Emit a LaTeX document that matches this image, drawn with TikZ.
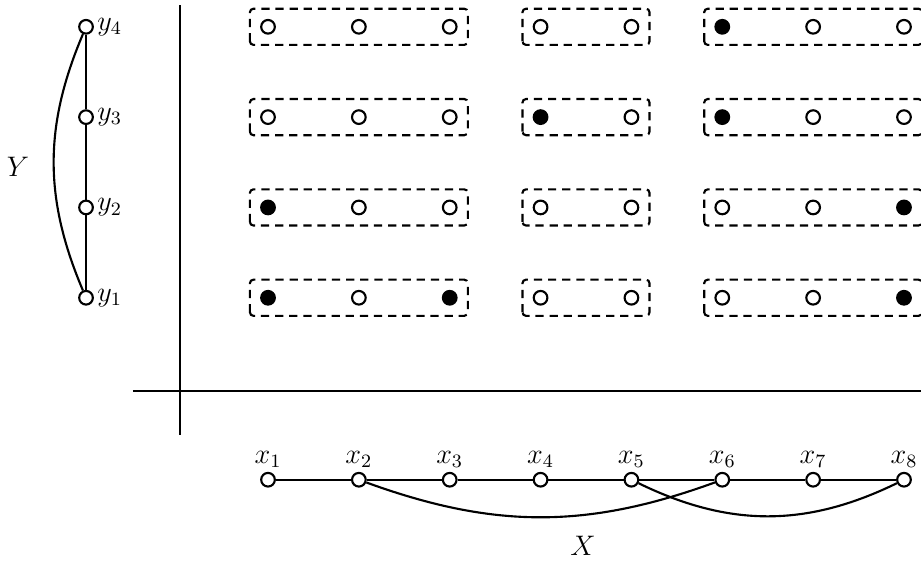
\documentclass[tikz,border=0pt]{standalone}
\usepackage{tikz}
\usetikzlibrary{positioning}
\newcommand{\xvtx}[3]{% x, name, label   (vertex of the X path)
  \node[vtx] (#2) at (#1,-7.16) {};
  \node[above=0pt of #2,inner sep=1.5pt] (l#2) {#3};}
\newcommand{\yvtx}[3]{% y, name, label   (vertex of the Y path)
  \node[vtx] (#2) at (1.284,#1) {};
  \node[right=0pt of #2,inner sep=1pt] (l#2) {#3};}
\newcommand{\dotrow}[9]{% row, then eight dots (vtx = open, dot = filled)
  \node[#2] (p#1a) at (4.000,{-0.4-(4-#1)*1.348}) {};
  \node[#3] (p#1b) at (5.356,{-0.4-(4-#1)*1.348}) {};
  \node[#4] (p#1c) at (6.712,{-0.4-(4-#1)*1.348}) {};
  \node[#5] (p#1d) at (8.068,{-0.4-(4-#1)*1.348}) {};
  \node[#6] (p#1e) at (9.424,{-0.4-(4-#1)*1.348}) {};
  \node[#7] (p#1f) at (10.780,{-0.4-(4-#1)*1.348}) {};
  \node[#8] (p#1g) at (12.136,{-0.4-(4-#1)*1.348}) {};
  \node[#9] (p#1h) at (13.492,{-0.4-(4-#1)*1.348}) {};
  \draw[box] ([shift={(-0.27,-0.27)}]p#1a.center) rectangle ([shift={(0.27,0.27)}]p#1c.center);
  \draw[box] ([shift={(-0.27,-0.27)}]p#1d.center) rectangle ([shift={(0.27,0.27)}]p#1e.center);
  \draw[box] ([shift={(-0.27,-0.27)}]p#1f.center) rectangle ([shift={(0.27,0.27)}]p#1h.center);}

\begin{document}
\begin{tikzpicture}[line width=0.9pt,font=\large,
  vtx/.style={circle,draw,fill=white,inner sep=0,minimum size=5.8pt},
  dot/.style={vtx,fill=black},
  box/.style={dash pattern=on 3.5pt off 2.5pt,rounded corners=1.5pt}]
  \useasboundingbox (0,0) rectangle (13.746,-8.418);
  % Y path on the left
  \yvtx{-4.444}{y1}{$y_1$}
  \yvtx{-3.096}{y2}{$y_2$}
  \yvtx{-1.748}{y3}{$y_3$}
  \yvtx{-0.400}{y4}{$y_4$}
  \draw (y1) -- (y2) -- (y3) -- (y4);
  \draw (y1) to[bend left=23] (y4);
  \node (ylab) at (0.27,-2.49) {$Y$};
  % axes
  \coordinate (axt) at (2.687,-0.075);
  \coordinate (axb) at (2.687,-6.49);
  \coordinate (axl) at (1.985,-5.836);
  \coordinate (axr) at (13.8,-5.836);
  \draw (axt) -- (axb);
  \draw (axl) -- (axr);
  % product grid
  \dotrow{4}{vtx}{vtx}{vtx}{vtx}{vtx}{dot}{vtx}{vtx}
  \dotrow{3}{vtx}{vtx}{vtx}{dot}{vtx}{dot}{vtx}{vtx}
  \dotrow{2}{dot}{vtx}{vtx}{vtx}{vtx}{vtx}{vtx}{dot}
  \dotrow{1}{dot}{vtx}{dot}{vtx}{vtx}{vtx}{vtx}{dot}
  % X path at the bottom
  \xvtx{4.000}{x1}{$x_1$}
  \xvtx{5.356}{x2}{$x_2$}
  \xvtx{6.712}{x3}{$x_3$}
  \xvtx{8.068}{x4}{$x_4$}
  \xvtx{9.424}{x5}{$x_5$}
  \xvtx{10.780}{x6}{$x_6$}
  \xvtx{12.136}{x7}{$x_7$}
  \xvtx{13.492}{x8}{$x_8$}
  \draw (x1) -- (x2) -- (x3) -- (x4) -- (x5) -- (x6) -- (x7) -- (x8);
  \draw (x2) to[bend right=20] (x6);
  \draw (x5) to[bend right=26] (x8);
  \node (xlab) at (8.70,-8.15) {$X$};
\end{tikzpicture}
\end{document}
